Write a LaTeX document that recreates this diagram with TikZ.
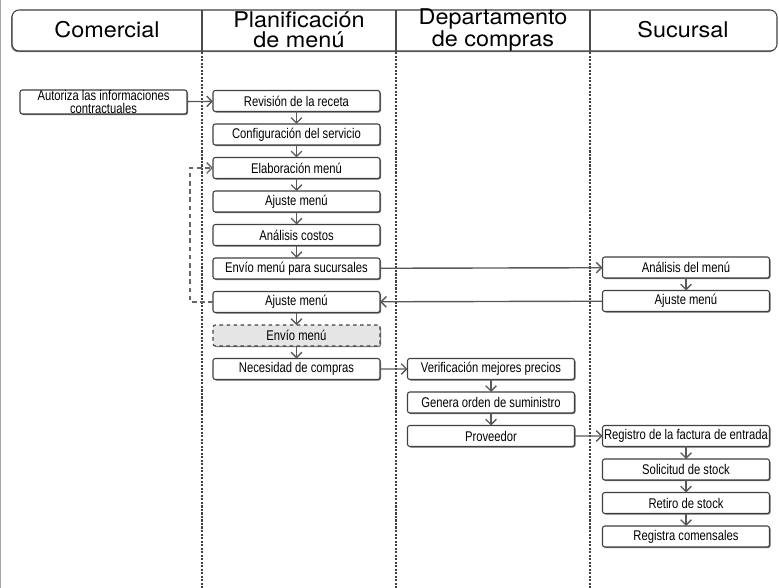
\documentclass[tikz,border=0pt]{standalone}
\usepackage{fontspec}
\setmainfont{Liberation Sans}
\newfontfamily\cabfont[FakeStretch=1.08]{TeX Gyre Heros}
\newfontfamily\pasofont[FakeStretch=0.8]{Liberation Sans}
\usetikzlibrary{arrows.meta,positioning,shadows}

\begin{document}
\begin{tikzpicture}[x=0.03cm,y=0.03cm,>={Straight Barb[length=4.5pt,width=9pt]},node distance=0.375cm]

  \tikzstyle{paso}=[draw=black!75,line width=0.9pt,fill=white,rounded corners=2pt,minimum width=5.01cm,minimum height=0.63cm,
    inner sep=0.5pt,outer sep=0pt,font=\pasofont\fontsize{12}{10.5}\selectfont,align=center,
    drop shadow={shadow xshift=0.9pt,shadow yshift=-0.9pt,fill=black!55,opacity=1}]
  \tikzstyle{flujo}=[->,draw=black!65,line width=1.2pt]
  \tikzstyle{retro}=[->,draw=black!60,line width=1.2pt,dash pattern=on 4pt off 3pt]
  \tikzstyle{carril}=[draw=black!75,line width=2pt,dash pattern=on 1.8pt off 1.2pt]
  \tikzstyle{cab}=[font=\cabfont\fontsize{18.5}{17}\selectfont,align=center,inner sep=0pt]

  \useasboundingbox (0,0) rectangle (779,588);
  \draw[black!35,line width=1pt] (0.5,0) -- (0.5,588);

  % encabezado
  \draw[draw=black!75,fill=white,rounded corners=6pt,line width=0.9pt,
    drop shadow={shadow xshift=-0.8pt,shadow yshift=-1pt,fill=black!50,opacity=1}] (12,537) rectangle (777,578);
  \foreach \x in {202,396,590} {
    \draw[black!70,line width=0.9pt] (\x,537) -- (\x,578);
    \draw[carril] (\x,536) -- (\x,0);
  }
  \node[cab] (hcom) at (107,558) {Comercial};
  \node[cab] (hpla) at (299,558) {Planificación\\de menú};
  \node[cab] (hdep) at (493,558) {Departamento\\de compras};
  \node[cab] (hsuc) at (683,558) {Sucursal};

  \node[paso,minimum height=0.72cm] (aut) at (103.5,486) {Autoriza las informaciones\\contractuales};

  \node[paso] (rev) at (296.5,487)  {Revisión de la receta};
  \node[paso] (conf) [below=of rev]  {Configuración del servicio};
  \node[paso] (elab) [below=of conf] {Elaboración menú};
  \node[paso] (aj1)  [below=of elab] {Ajuste menú};
  \node[paso] (cost) [below=of aj1]  {Análisis costos};
  \node[paso] (env)  [below=of cost] {Envío menú para sucursales};
  \node[paso] (aj2)  [below=of env]  {Ajuste menú};
  \node[paso,dashed,fill=black!10] (envm) [below=of aj2] {Envío menú};
  \node[paso] (nec)  [below=of envm] {Necesidad de compras};

  \node[paso] (ver)  at (491,219)    {Verificación mejores precios};
  \node[paso] (gen)  [below=of ver]  {Genera orden de suministro};
  \node[paso] (prov) [below=of gen]  {Proveedor};

  \node[paso] (ana)  at (686,320.5)  {Análisis del menú};
  \node[paso] (aj3)  [below=of ana]  {Ajuste menú};
  \node[paso] (reg)  at (686,152)    {Registro de la factura de entrada};
  \node[paso] (sol)  [below=of reg]  {Solicitud de stock};
  \node[paso] (ret)  [below=of sol]  {Retiro de stock};
  \node[paso] (com)  [below=of ret]  {Registra comensales};

  \path[flujo] (aut) edge (rev)
    (rev) edge (conf)  (conf) edge (elab)  (elab) edge (aj1)  (aj1) edge (cost)
    (cost) edge (env)  (aj2) edge (envm)  (envm) edge (nec)
    (env) edge (ana)   (aj3) edge (aj2)   (nec) edge (ver)
    (ver) edge (gen)   (gen) edge (prov)  (prov) edge (reg)
    (ana) edge (aj3)   (reg) edge (sol)   (sol) edge (ret)  (ret) edge (com);

  \draw[retro] (aj2.west) -- ++(-23,0) |- (elab.west);
\end{tikzpicture}
\end{document}
